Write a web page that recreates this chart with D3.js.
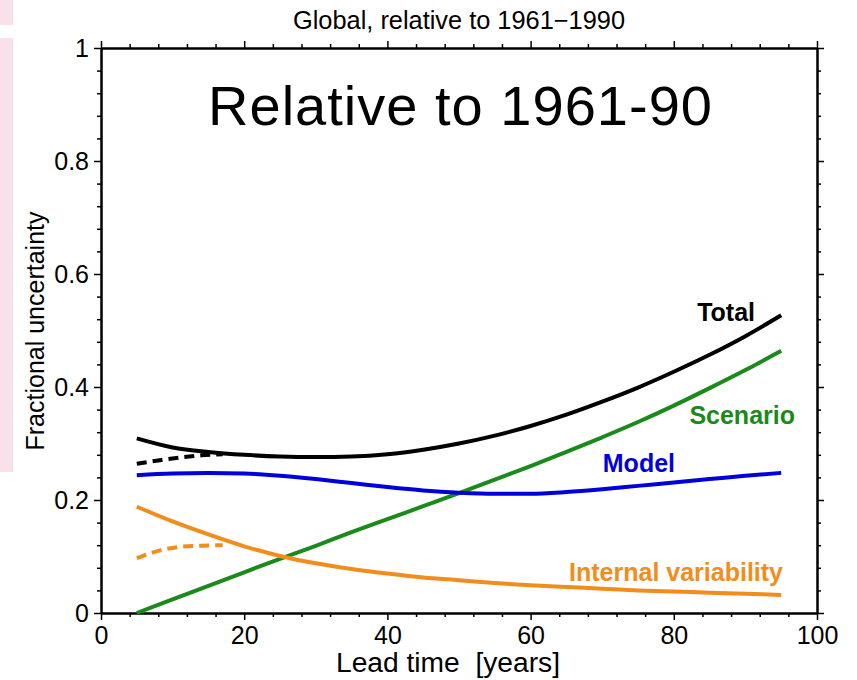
<!DOCTYPE html>
<html><head><meta charset="utf-8">
<script src="https://cdn.jsdelivr.net/npm/d3@7"></script>
<style>
body{margin:0;background:#fff;}
text{font-family:"Liberation Sans",Arial,Helvetica,sans-serif;}
</style></head>
<body><svg id="c" width="857" height="680"></svg>
<script>
const leadTime = [5,10,15,20,25,30,35,40,45,50,55,60,65,70,75,80,85,90,95];
const total    = [0.309,0.293,0.285,0.280,0.277,0.276,0.277,0.281,0.289,0.300,0.314,0.331,0.351,0.374,0.399,0.427,0.457,0.490,0.527];
const scenario = [0.000,0.024,0.048,0.072,0.096,0.119,0.143,0.166,0.189,0.212,0.236,0.260,0.285,0.311,0.338,0.367,0.398,0.430,0.464];
const model    = [0.244,0.247,0.248,0.247,0.243,0.237,0.230,0.223,0.217,0.213,0.211,0.211,0.214,0.219,0.225,0.231,0.237,0.243,0.248];
const internal = [0.188,0.162,0.139,0.118,0.101,0.088,0.078,0.070,0.063,0.058,0.053,0.049,0.046,0.043,0.040,0.038,0.036,0.034,0.032];
const leadTimeEarly  = [5,8,11,14,17];
const totalDashed    = [0.264,0.270,0.275,0.279,0.281];
const internalDashed = [0.097,0.110,0.117,0.119,0.120];
const xTicks = [0,20,40,60,80,100];
const yTicks = [0,0.2,0.4,0.6,0.8,1];
const yTickLabels = ["0","0.2","0.4","0.6","0.8","1"];
const seriesLabels = ["Total","Scenario","Model","Internal variability"];
const seriesColors = ["#000000","#1a8a1a","#0000dd","#f28c1c"];

const svg = d3.select("#c");
const x = d3.scaleLinear().domain([0,100]).range([101,817]);
const y = d3.scaleLinear().domain([0,1]).range([613,48]);

// decorative pink strip at left edge
svg.append("rect").attr("x",0).attr("y",0).attr("width",13).attr("height",25).attr("fill","#f8e1ea");
svg.append("rect").attr("x",0).attr("y",38).attr("width",13).attr("height",434).attr("fill","#f8e1ea");

const minorX = d3.range(0,101,4).filter(v=>v%20!==0);
const minorY = d3.range(0,1.0001,0.04).map(v=>+v.toFixed(2)).filter(v=>Math.round(v*100)%20!==0);

function styleAxis(g){
  g.selectAll(".domain").attr("stroke","#000").attr("stroke-width",2);
  g.selectAll(".tick line").attr("stroke","#000").attr("stroke-width",1.5);
  g.selectAll(".tick text").attr("font-size",25).attr("fill","#000");
}
// bottom
svg.append("g").attr("transform","translate(0,613)")
  .call(d3.axisBottom(x).tickValues(minorX).tickSize(4).tickFormat("").tickSizeOuter(0)).call(styleAxis);
svg.append("g").attr("transform","translate(0,613)")
  .call(d3.axisBottom(x).tickValues(xTicks).tickSize(7).tickPadding(6).tickSizeOuter(0)).call(styleAxis);
// top
svg.append("g").attr("transform","translate(0,48)")
  .call(d3.axisTop(x).tickValues(minorX).tickSize(4).tickFormat("").tickSizeOuter(0)).call(styleAxis);
svg.append("g").attr("transform","translate(0,48)")
  .call(d3.axisTop(x).tickValues(xTicks).tickSize(7).tickFormat("").tickSizeOuter(0)).call(styleAxis);
// left
svg.append("g").attr("transform","translate(101,0)")
  .call(d3.axisLeft(y).tickValues(minorY).tickSize(4).tickFormat("").tickSizeOuter(0)).call(styleAxis);
svg.append("g").attr("transform","translate(101,0)")
  .call(d3.axisLeft(y).tickValues(yTicks).tickSize(7).tickPadding(5).tickFormat((d,i)=>yTickLabels[i]).tickSizeOuter(0)).call(styleAxis);
// right
svg.append("g").attr("transform","translate(817,0)")
  .call(d3.axisRight(y).tickValues(minorY).tickSize(4).tickFormat("").tickSizeOuter(0)).call(styleAxis);
svg.append("g").attr("transform","translate(817,0)")
  .call(d3.axisRight(y).tickValues(yTicks).tickSize(7).tickFormat("").tickSizeOuter(0)).call(styleAxis);

const line = d3.line().x(d=>x(d[0])).y(d=>y(d[1])).curve(d3.curveMonotoneX);
const zipL = (xs,ys)=>xs.map((v,i)=>[v,ys[i]]);

svg.append("path").datum(zipL(leadTimeEarly,totalDashed)).attr("d",line)
  .attr("fill","none").attr("stroke",seriesColors[0]).attr("stroke-width",4).attr("stroke-dasharray","10,6");
svg.append("path").datum(zipL(leadTimeEarly,internalDashed)).attr("d",line)
  .attr("fill","none").attr("stroke",seriesColors[3]).attr("stroke-width",4).attr("stroke-dasharray","10,6");

[total,scenario,model,internal].forEach((s,i)=>{
  svg.append("path").datum(zipL(leadTime,s)).attr("d",line)
    .attr("fill","none").attr("stroke",seriesColors[i]).attr("stroke-width",4).attr("stroke-linecap","butt");
});

// series labels
const labelPos = [[755,321],[795,424],[675,472],[783,581]];
seriesLabels.forEach((t,i)=>{
  svg.append("text").attr("x",labelPos[i][0]).attr("y",labelPos[i][1]).attr("text-anchor","end")
    .attr("font-size",25).attr("font-weight","bold").attr("fill",seriesColors[i]).text(t);
});

// titles
svg.append("text").attr("x",459).attr("y",29).attr("text-anchor","middle").attr("font-size",25)
  .attr("textLength",332).attr("lengthAdjust","spacingAndGlyphs").text("Global, relative to 1961\u22121990");
svg.append("text").attr("x",208).attr("y",125).attr("font-size",56)
  .attr("textLength",504).attr("lengthAdjust","spacing").text("Relative to 1961-90");
svg.append("text").attr("x",336).attr("y",672).attr("font-size",27)
  .attr("textLength",224).attr("lengthAdjust","spacingAndGlyphs")
  .style("white-space","pre").text("Lead time  [years]");
svg.append("text").attr("transform","translate(44,331) rotate(-90)").attr("text-anchor","middle")
  .attr("font-size",25).text("Fractional uncertainty");
</script></body></html>
